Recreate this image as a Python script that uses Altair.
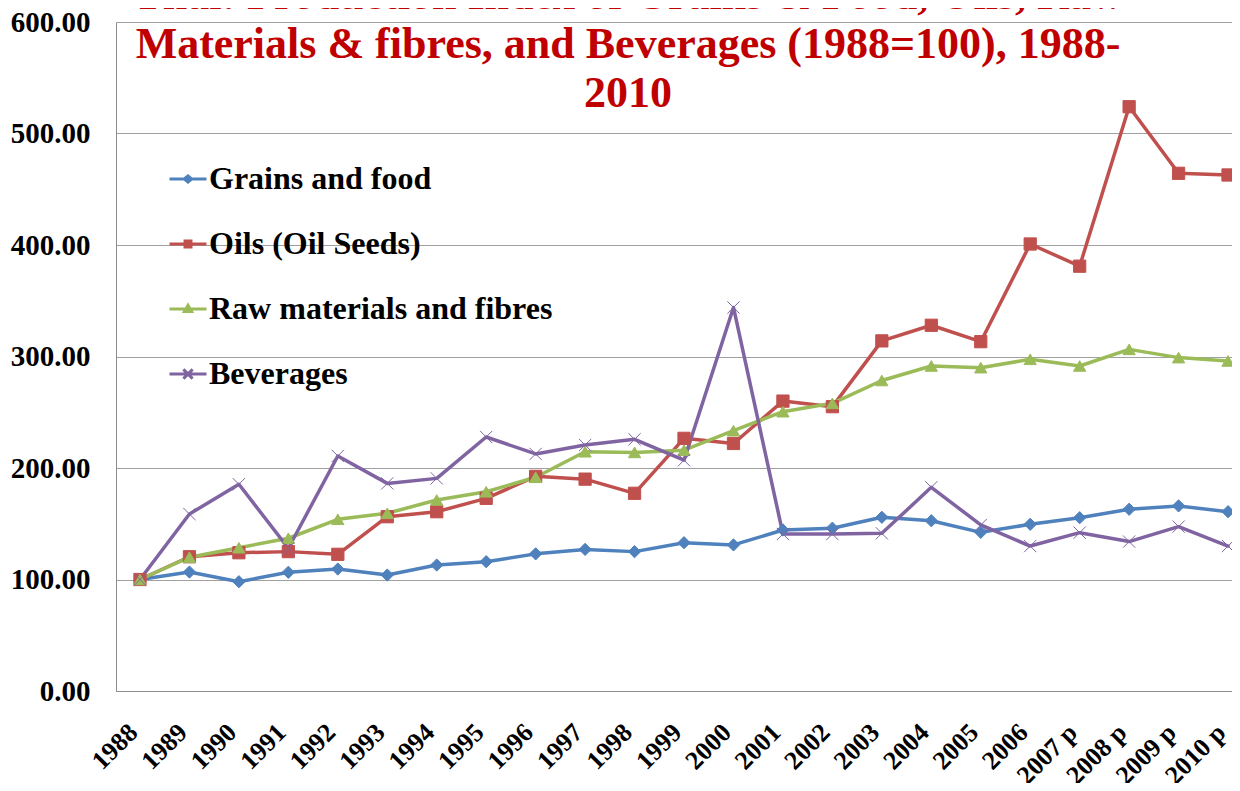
import altair as alt
import pandas as pd

series = ["Grains and food", "Oils (Oil Seeds)", "Raw materials and fibres", "Beverages"]
years = ["1988", "1989", "1990", "1991", "1992", "1993", "1994", "1995", "1996", "1997",
         "1998", "1999", "2000", "2001", "2002", "2003", "2004", "2005", "2006",
         "2007 p", "2008 p", "2009 p", "2010 p"]

grains = [100, 106.7, 98, 106.5, 109.4, 104, 113, 116, 123, 127, 125, 133, 131, 144.4,
          146, 155.8, 152.7, 142.3, 149.5, 155.4, 163, 166, 160.8]
oils = [100, 120.4, 124, 125, 122.6, 156.3, 160.8, 172.8, 192.5, 190, 177.3, 226.6, 222,
        260, 255, 314, 328, 313.3, 400.9, 381, 524, 464.3, 462.8]
raw = [100, 120, 128.5, 137, 154, 159.4, 171.3, 178.7, 191.7, 214.6, 214, 216, 233.5,
       250.5, 258, 278.5, 291.5, 290, 297.5, 291.5, 306.4, 299, 296]
bev = [100, 158.7, 185.4, 128, 210.8, 186.2, 190.7, 227.8, 212.6, 220.6, 225.7, 207, 344,
       140.8, 140.8, 141.4, 182.7, 148.9, 130, 142, 134, 147.4, 130]

colors = ["#4F81BD", "#C0504D", "#9BBB59", "#8064A2"]
plot_shapes = ["diamond", "square", "triangle-up", "M-1,-1L1,1M-1,1L1,-1"]
legend_shapes = [
    "M-1,0L1,0M-0.2,0L0,-0.17L0.2,0L0,0.17Z",
    "M-1,0L1,0M-0.16,-0.16L0.16,-0.16L0.16,0.16L-0.16,0.16Z",
    "M-1,0L1,0M0,-0.2L0.19,0.13L-0.19,0.13Z",
    "M-1,0L1,0M-0.25,-0.25L0.25,0.25M-0.25,0.25L0.25,-0.25",
]
title_lines = ["Thai: Production Index of Grains & Food, Oils, Raw",
               "Materials & fibres, and Beverages (1988=100), 1988-",
               "2010"]

rows = []
for name, vals in zip(series, [grains, oils, raw, bev]):
    for i, (yr, v) in enumerate(zip(years, vals)):
        rows.append({"idx": i, "year": yr, "series": name, "value": v})
df = pd.DataFrame(rows)

FONT = "Liberation Serif"
label_expr = "[" + ",".join("'" + y + "'" for y in years) + "][datum.value]"

x_enc = alt.X("idx:Q",
              scale=alt.Scale(domain=[-0.485, 22.08], nice=False, zero=False),
              axis=alt.Axis(values=list(range(len(years))), labelExpr=label_expr,
                            labelAngle=-45, labelAlign="right", labelBaseline="middle",
                            labelFont=FONT, labelFontSize=26, labelFontWeight="bold",
                            labelColor="black", labelPadding=37, labelOffset=-7,
                            labelFlush=False, labelOverlap=False, labelBound=False,
                            ticks=False, grid=False, domainColor="#8c8c8c", title=None))
y_enc = alt.Y("value:Q",
              scale=alt.Scale(domain=[0, 600], nice=False),
              axis=alt.Axis(values=[0, 100, 200, 300, 400, 500, 600], format=".2f",
                            labelFont=FONT, labelFontSize=29, labelFontWeight="bold",
                            labelColor="black", labelPadding=26, ticks=False,
                            grid=True, gridColor="#a0a0a0", domainColor="#8c8c8c",
                            title=None))

col_scale = alt.Scale(domain=series, range=colors)
base = alt.Chart(df)

lines = base.mark_line(strokeWidth=3.5, strokeJoin="round", strokeCap="round").encode(
    x=x_enc, y=y_enc,
    color=alt.Color("series:N", scale=col_scale, legend=None),
    detail="series:N",
)

points = base.mark_point(filled=True, opacity=1, size=150, strokeWidth=1).encode(
    x=x_enc, y=y_enc,
    fill=alt.Fill("series:N", scale=col_scale, legend=None),
    stroke=alt.Stroke("series:N", scale=col_scale, legend=None),
    shape=alt.Shape("series:N", scale=alt.Scale(domain=series, range=plot_shapes), legend=None),
)

leg = alt.Legend(title=None, orient="none", legendX=52, legendY=137, padding=0,
                 direction="vertical", symbolSize=1369, symbolStrokeWidth=3,
                 labelFont=FONT, labelFontSize=32, labelFontWeight="bold",
                 labelColor="black", labelOffset=1, rowPadding=29, labelLimit=600)

legend_layer = base.mark_point(filled=True, opacity=0, size=1369, strokeWidth=3).encode(
    x=x_enc, y=y_enc,
    fill=alt.Fill("series:N", scale=alt.Scale(domain=series, range=colors), legend=leg),
    stroke=alt.Stroke("series:N", scale=alt.Scale(domain=series, range=colors), legend=leg),
    shape=alt.Shape("series:N", scale=alt.Scale(domain=series, range=legend_shapes), legend=leg),
)

chart = alt.layer(lines, points, legend_layer).resolve_scale(
    shape="independent", fill="independent", stroke="independent"
).properties(
    width=1116, height=669,
    autosize=alt.AutoSizeParams(type="none"),
    padding={"left": 108, "top": 14, "right": 0, "bottom": 92},
    title=alt.TitleParams(text=title_lines, font=FONT, fontSize=44, fontWeight="bold",
                          color="#C00000", lineHeight=49, anchor="middle", frame="group",
                          dx=-46, offset=-108),
).configure_view(stroke=None).configure(background="white")

chart.save("out.html", embed_options={"renderer": "svg", "actions": False})
